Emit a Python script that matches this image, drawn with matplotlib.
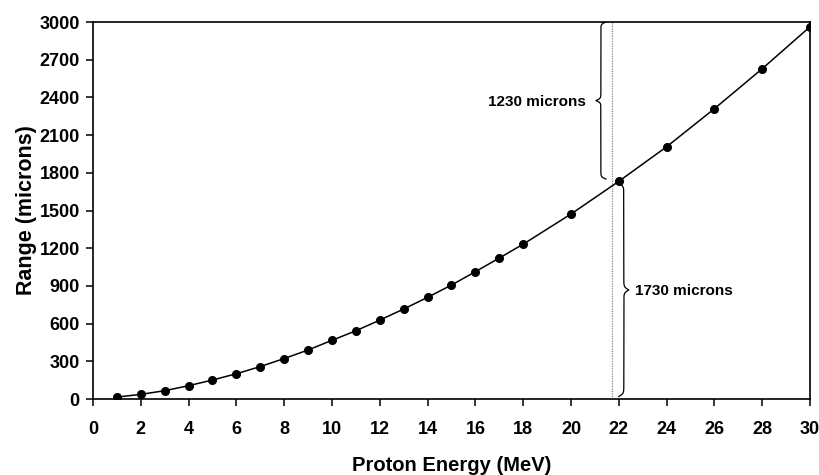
import numpy as np
import matplotlib
matplotlib.use("Agg")
import matplotlib.pyplot as plt

# Data
energy_mev = [1, 2, 3, 4, 5, 6, 7, 8, 9, 10, 11, 12, 13, 14, 15, 16, 17, 18, 20, 22, 24, 26, 28, 30]
range_microns = [15, 37, 66, 106, 151, 201, 258, 322, 390, 467, 543, 628, 716, 809, 907,
                 1013, 1122, 1232, 1472, 1732, 2007, 2310, 2628, 2962]
x_ticks = list(range(0, 31, 2))
y_ticks = list(range(0, 3001, 300))
marker_energy = 21.7
upper_label = "1230 microns"
lower_label = "1730 microns"
upper_span = (1750, 3000)
lower_span = (20, 1715)

plt.rcParams['font.family'] = ['Liberation Sans', 'DejaVu Sans']

fig = plt.figure(figsize=(8.2, 4.75), dpi=100)
ax = fig.add_axes([93/820, 1-399/475, (810-93)/820, (399-22)/475])

ax.plot(energy_mev, range_microns, color='black', lw=1.1, marker='o', ms=5.5,
        markerfacecolor='black', markeredgecolor='black', zorder=3)

ax.axvline(marker_energy, color='#8a8a8a', lw=0.9, ls=(0, (1, 1)), zorder=2)


def brace(ax, x_end, y0, y1, w, direction, beta=150.0, n=401):
    t = np.linspace(0, 1, n)
    half = t[:n // 2 + 1]
    h = 1/(1.+np.exp(-beta*(half-half[0]))) + 1/(1.+np.exp(-beta*(half-half[-1])))
    prof = np.concatenate((h, h[-2::-1]))
    ys = np.linspace(y0, y1, len(prof))
    xs = x_end + direction * w * (prof - 0.5)
    ax.plot(xs, ys, color='black', lw=0.9, zorder=3)


brace(ax, 21.46, upper_span[0], upper_span[1], 0.42, -1)
brace(ax, 22.0, lower_span[0], lower_span[1], 0.42, +1)

ax.text(20.62, sum(upper_span)/2 - 15, upper_label, ha='right', va='center',
        fontsize=11, fontweight='bold')
ax.text(22.66, sum(lower_span)/2 - 10, lower_label, ha='left', va='center',
        fontsize=11, fontweight='bold')

ax.set_xlim(0, 30)
ax.set_ylim(0, 3000)
ax.set_xticks(x_ticks)
ax.set_yticks(y_ticks)
ax.tick_params(axis='both', direction='out', length=5, width=1.1, labelsize=13)
ax.tick_params(axis='x', pad=11)
ax.tick_params(axis='y', pad=4.6)
for lab in ax.get_xticklabels() + ax.get_yticklabels():
    lab.set_fontweight('bold')
for s in ax.spines.values():
    s.set_linewidth(1.2)

ax.set_xlabel('Proton Energy (MeV)', fontsize=14.5, fontweight='bold', labelpad=13)
ax.set_ylabel('Range (microns)', fontsize=15.5, fontweight='bold', labelpad=2)

fig.savefig('out.png', dpi=100)
